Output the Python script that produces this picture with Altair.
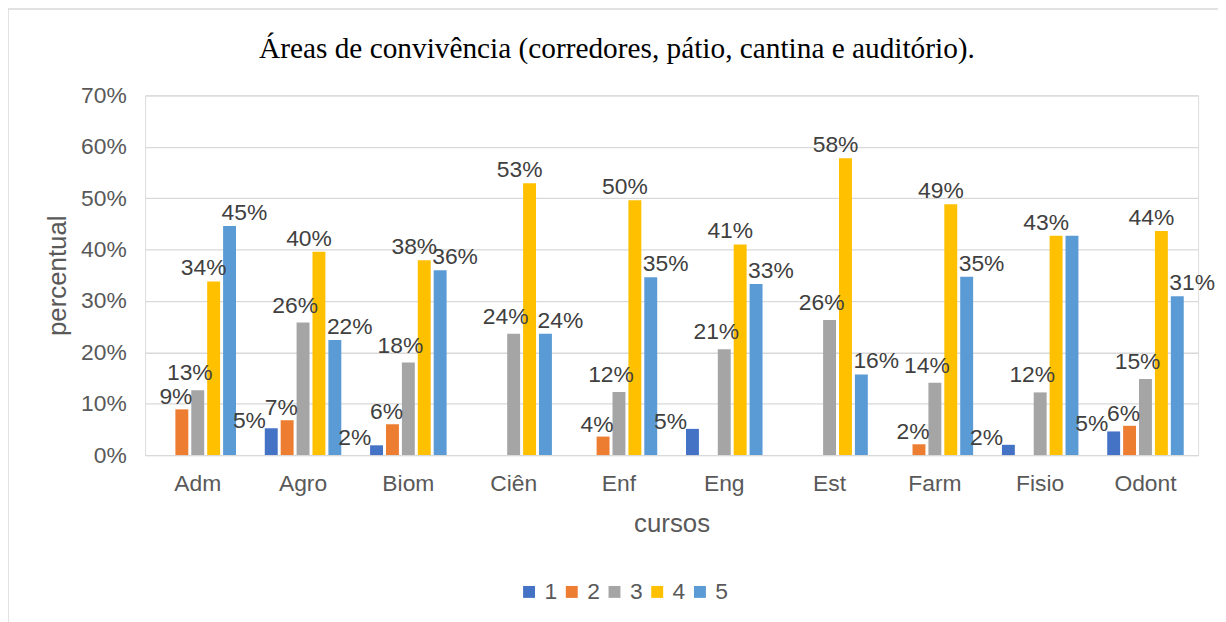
import altair as alt
import pandas as pd

title_text = "Áreas de convivência (corredores, pátio, cantina e auditório)."
cursos = ["Adm", "Agro", "Biom", "Ciên", "Enf", "Eng", "Est", "Farm", "Fisio", "Odont"]
series = ["1", "2", "3", "4", "5"]
s1 = [0.0, 0.052, 0.019, 0.0, 0.0, 0.051, 0.0, 0.0, 0.020, 0.046]
s2 = [0.089, 0.068, 0.060, 0.0, 0.036, 0.0, 0.0, 0.021, 0.0, 0.057]
s3 = [0.126, 0.258, 0.180, 0.236, 0.123, 0.206, 0.263, 0.141, 0.122, 0.148]
s4 = [0.338, 0.396, 0.379, 0.529, 0.496, 0.410, 0.578, 0.488, 0.427, 0.436]
s5 = [0.446, 0.224, 0.360, 0.236, 0.346, 0.333, 0.157, 0.347, 0.427, 0.309]
# data labels as shown in the reference ("" = no label shown)
lab1 = ["", "5%", "2%", "", "", "5%", "", "", "2%", "5%"]
lab2 = ["9%", "7%", "6%", "", "4%", "", "", "2%", "", "6%"]
lab3 = ["13%", "26%", "18%", "24%", "12%", "21%", "26%", "14%", "12%", "15%"]
lab4 = ["34%", "40%", "38%", "53%", "50%", "41%", "58%", "49%", "43%", "44%"]
lab5 = ["45%", "22%", "36%", "24%", "35%", "33%", "16%", "35%", "", "31%"]
colors = ["#4472C4", "#ED7D31", "#A5A5A5", "#FFC000", "#5B9BD5"]

rows = []
for sname, vals, labs in zip(series, [s1, s2, s3, s4, s5], [lab1, lab2, lab3, lab4, lab5]):
    for c, v, l in zip(cursos, vals, labs):
        rows.append({"curso": c, "serie": sname, "valor": v, "rotulo": l})
df = pd.DataFrame(rows)

FONT = "Liberation Sans"
GRAY = "#595959"

xenc = alt.X("curso:N", sort=cursos, title="cursos",
             scale=alt.Scale(paddingInner=0.245, paddingOuter=0.1225),
             axis=alt.Axis(labelAngle=0, ticks=False, domainColor="#D9D9D9", domainWidth=1,
                           labelFontSize=23, labelColor=GRAY, labelFont=FONT, labelPadding=18,
                           titleFontSize=26, titleColor=GRAY, titleFont=FONT,
                           titleFontWeight="normal", titlePadding=15, grid=False))
xoff = alt.XOffset("serie:N", sort=series,
                   scale=alt.Scale(paddingInner=0.1875, paddingOuter=0.09375))
yenc = alt.Y("valor:Q", title="percentual",
             scale=alt.Scale(domain=[0, 0.7], nice=False),
             axis=alt.Axis(values=[0, 0.1, 0.2, 0.3, 0.4, 0.5, 0.6, 0.7], format=".0%",
                           domain=False, ticks=False, gridColor="#D9D9D9", gridWidth=1.3,
                           labelFontSize=23, labelColor=GRAY, labelFont=FONT, labelPadding=19,
                           titleFontSize=26, titleColor=GRAY, titleFont=FONT,
                           titleFontWeight="normal", titlePadding=10))

base = alt.Chart(df)
bars = base.mark_bar().encode(
    x=xenc, xOffset=xoff, y=yenc,
    color=alt.Color("serie:N", sort=series,
                    scale=alt.Scale(domain=series, range=colors),
                    legend=alt.Legend(orient="none", legendX=375, legendY=488, direction="horizontal",
                                      title=None, symbolType="square", symbolSize=144,
                                      symbolStrokeWidth=0, labelFontSize=23, labelColor=GRAY,
                                      labelFont=FONT, labelOffset=4, columnPadding=3, padding=0)),
)

label_shift = {"1": (-22, -7), "2": (-6, -12), "3": (-8, -17), "4": (-10, -13), "5": (15, -13)}
label_layers = []
for sname in series:
    dx, dy = label_shift[sname]
    label_layers.append(
        base.transform_filter(f"datum.serie == '{sname}' && datum.rotulo != ''").mark_text(
            baseline="middle", dx=dx, dy=dy, fontSize=23, font=FONT, color="#404040"
        ).encode(x=alt.X("curso:N", sort=cursos), xOffset=xoff, y=alt.Y("valor:Q"),
                 text=alt.Text("rotulo:N"))
    )

title = alt.Chart(pd.DataFrame({"t": [title_text]})).mark_text(
    font="Liberation Serif", fontSize=29.5, color="#000000", align="center", baseline="alphabetic"
).encode(text="t:N", x=alt.value(475), y=alt.value(-38))

border = alt.Chart(pd.DataFrame({"b": [1]})).mark_rect(
    fill=None, fillOpacity=0, stroke="#D9D9D9", strokeWidth=1.5
).encode(x=alt.value(-138), x2=alt.value(1300), y=alt.value(-87), y2=alt.value(700))

chart = alt.layer(border, bars, *label_layers, title).properties(
    width=1060, height=362,
    autosize=alt.AutoSizeParams(type="none"),
    padding={"left": 138, "top": 86, "right": 20, "bottom": 166},
).configure_view(stroke=None).configure(background="white")

chart.save("out.html", embed_options={"renderer": "svg", "actions": False})
